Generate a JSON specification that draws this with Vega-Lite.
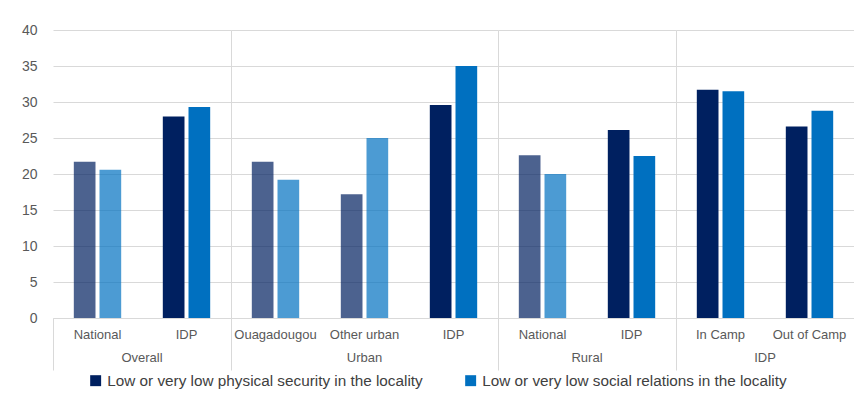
{
  "$schema": "https://vega.github.io/schema/vega-lite/v6.json",
  "padding": {"left": 21, "top": 23, "right": 0, "bottom": 0},
  "background": "white",
  "data": {"values": [
    {"group": "Overall", "key": "Overall|National", "series": "Low or very low physical security in the locality", "value": 21.7, "pattern": "yes"},
    {"group": "Overall", "key": "Overall|National", "series": "Low or very low social relations in the locality", "value": 20.6, "pattern": "yes"},
    {"group": "Overall", "key": "Overall|IDP", "series": "Low or very low physical security in the locality", "value": 28.0, "pattern": "no"},
    {"group": "Overall", "key": "Overall|IDP", "series": "Low or very low social relations in the locality", "value": 29.3, "pattern": "no"},
    {"group": "Urban", "key": "Urban|Ouagadougou", "series": "Low or very low physical security in the locality", "value": 21.7, "pattern": "yes"},
    {"group": "Urban", "key": "Urban|Ouagadougou", "series": "Low or very low social relations in the locality", "value": 19.2, "pattern": "yes"},
    {"group": "Urban", "key": "Urban|Other urban", "series": "Low or very low physical security in the locality", "value": 17.2, "pattern": "yes"},
    {"group": "Urban", "key": "Urban|Other urban", "series": "Low or very low social relations in the locality", "value": 25.0, "pattern": "yes"},
    {"group": "Urban", "key": "Urban|IDP", "series": "Low or very low physical security in the locality", "value": 29.6, "pattern": "no"},
    {"group": "Urban", "key": "Urban|IDP", "series": "Low or very low social relations in the locality", "value": 35.0, "pattern": "no"},
    {"group": "Rural", "key": "Rural|National", "series": "Low or very low physical security in the locality", "value": 22.6, "pattern": "yes"},
    {"group": "Rural", "key": "Rural|National", "series": "Low or very low social relations in the locality", "value": 20.0, "pattern": "yes"},
    {"group": "Rural", "key": "Rural|IDP", "series": "Low or very low physical security in the locality", "value": 26.1, "pattern": "no"},
    {"group": "Rural", "key": "Rural|IDP", "series": "Low or very low social relations in the locality", "value": 22.5, "pattern": "no"},
    {"group": "IDP", "key": "IDP|In Camp", "series": "Low or very low physical security in the locality", "value": 31.7, "pattern": "no"},
    {"group": "IDP", "key": "IDP|In Camp", "series": "Low or very low social relations in the locality", "value": 31.5, "pattern": "no"},
    {"group": "IDP", "key": "IDP|Out of Camp", "series": "Low or very low physical security in the locality", "value": 26.6, "pattern": "no"},
    {"group": "IDP", "key": "IDP|Out of Camp", "series": "Low or very low social relations in the locality", "value": 28.8, "pattern": "no"}
  ]},
  "facet": {
    "column": {
      "field": "group", "type": "nominal",
      "sort": ["Overall", "Urban", "Rural", "IDP"],
      "title": null,
      "header": {"labelOrient": "bottom", "labelPadding": 34, "labelFontSize": 13, "labelColor": "#595959", "labelFont": "Liberation Sans"}
    }
  },
  "spacing": 0,
  "bounds": "flush",
  "resolve": {"scale": {"x": "independent", "xOffset": "independent"}},
  "spec": {
    "width": {"step": 89, "for": "position"},
    "height": 288,
    "mark": {"type": "bar"},
    "encoding": {
      "x": {
        "field": "key", "type": "nominal", "sort": null, "title": null,
        "scale": {"paddingInner": 0, "paddingOuter": 0},
        "axis": {
          "labelExpr": "split(datum.label, '|')[1]",
          "labelAngle": 0,
          "labelFont": "Liberation Sans",
          "labelFontSize": 13,
          "labelColor": "#595959",
          "labelPadding": -42,
          "domainColor": "#d9d9d9",
          "bandPosition": 0,
          "tickSize": 52,
          "tickColor": {"condition": {"test": "indexof(['Overall|National','Urban|Ouagadougou','Rural|National','IDP|In Camp'], datum.value) >= 0", "value": "#d9d9d9"}, "value": "transparent"},
          "grid": true,
          "gridColor": {"condition": {"test": "indexof(['Urban|Ouagadougou','Rural|National','IDP|In Camp'], datum.value) >= 0", "value": "#d9d9d9"}, "value": "transparent"}
        }
      },
      "xOffset": {
        "field": "series", "type": "nominal",
        "sort": ["Low or very low physical security in the locality", "Low or very low social relations in the locality"],
        "scale": {"paddingInner": 0.156, "paddingOuter": 0.81}
      },
      "y": {
        "field": "value", "type": "quantitative", "title": null,
        "scale": {"domain": [0, 40]},
        "axis": {
          "values": [0, 5, 10, 15, 20, 25, 30, 35, 40],
          "domain": false, "ticks": false,
          "labelPadding": 16,
          "labelFont": "Liberation Sans", "labelFontSize": 14, "labelColor": "#595959",
          "gridColor": "#d9d9d9"
        }
      },
      "color": {
        "field": "series", "type": "nominal",
        "sort": ["Low or very low physical security in the locality", "Low or very low social relations in the locality"],
        "scale": {"range": ["#002060", "#0070C0"]},
        "legend": {
          "orient": "none", "legendX": 35, "legendY": 343,
          "title": null, "direction": "horizontal",
          "symbolType": "square", "symbolSize": 120, "symbolOpacity": 1,
          "labelFont": "Liberation Sans", "labelFontSize": 15.3, "labelColor": "#404040",
          "columnPadding": 40, "labelLimit": 400
        }
      },
      "opacity": {
        "field": "pattern", "type": "nominal",
        "scale": {"domain": ["yes", "no"], "range": [0.7, 1]},
        "legend": null
      }
    }
  },
  "config": {"view": {"stroke": null}}
}
